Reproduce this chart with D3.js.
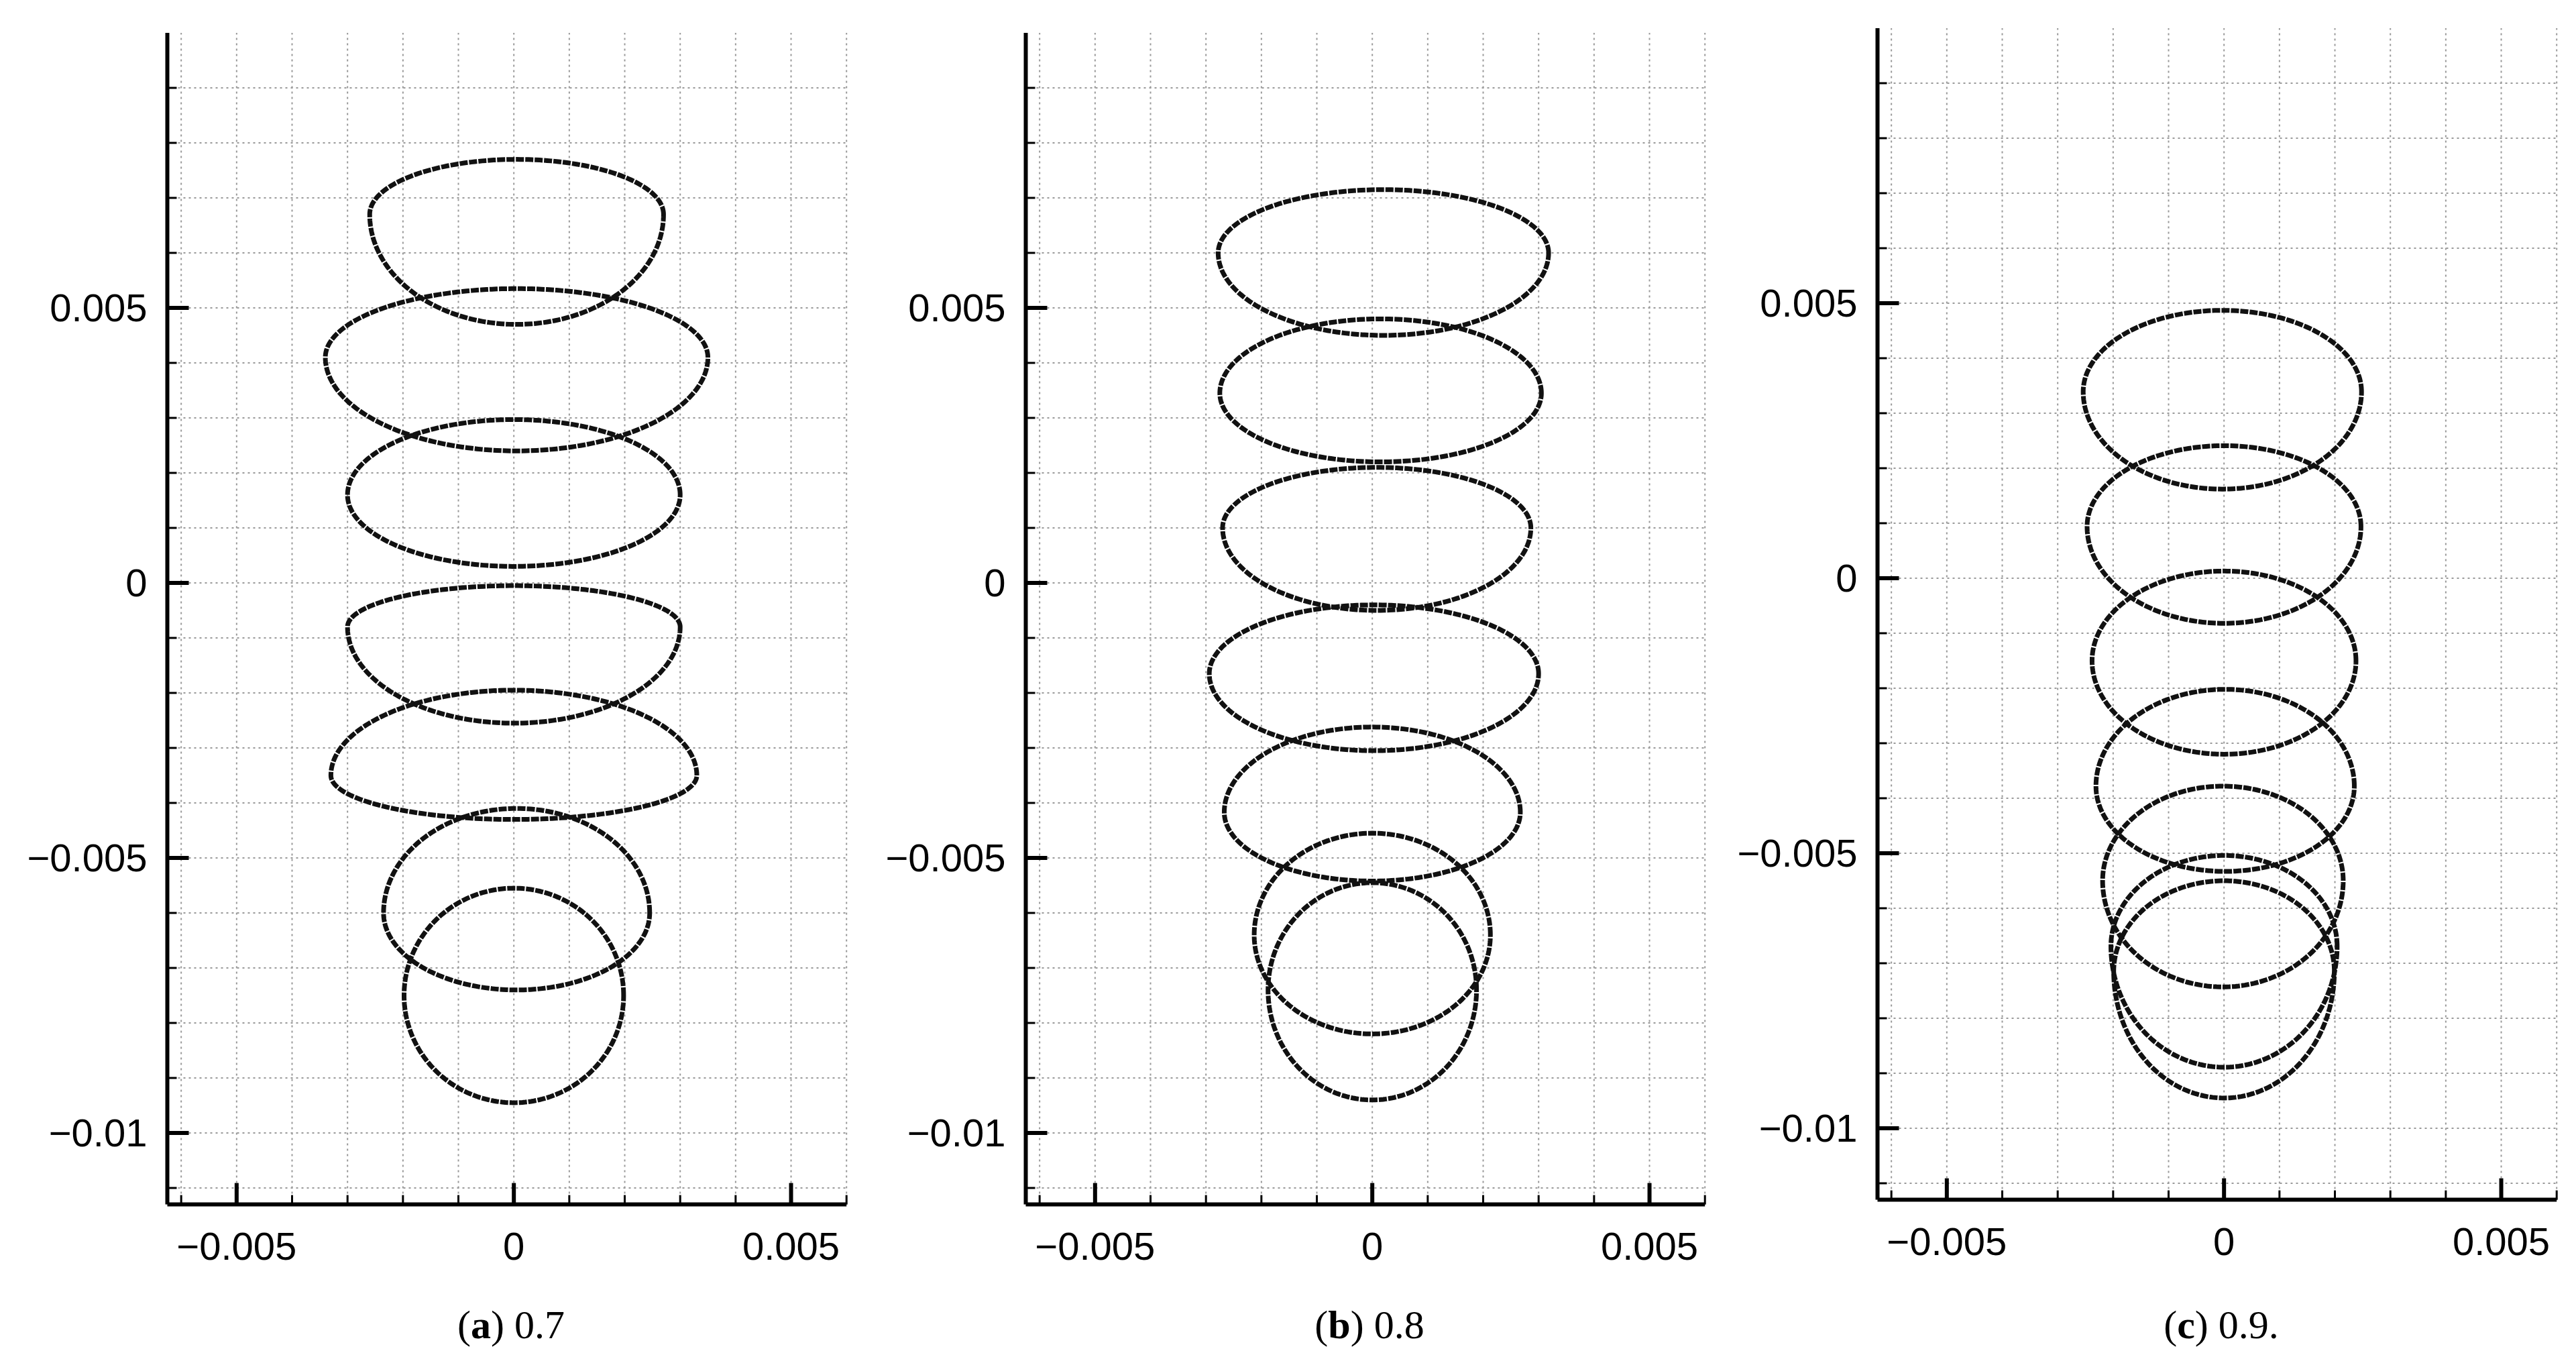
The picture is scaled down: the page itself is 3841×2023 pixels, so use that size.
<!DOCTYPE html>
<html><head><meta charset="utf-8">
<script src="https://cdn.jsdelivr.net/npm/d3@7"></script>
<style>body{margin:0;background:#fff}</style>
</head><body>
<svg id="c" width="3841" height="2023"></svg>
<script>
// values in units of 0.001: [cx, cy, rx, ryTop, ryBottom]
const panelA = [[0.05,6.7,2.65,1.0,2.0],[0.05,4.1,3.45,1.25,1.7],[0.0,1.6,3.0,1.37,1.3],[0.0,-0.8,3.0,0.75,1.75],[0.0,-3.5,3.3,1.55,0.8],[0.05,-6.0,2.4,1.9,1.4],[0.0,-7.5,1.98,1.95,1.95]];
const panelB = [[0.2,6.0,2.98,1.15,1.5],[0.15,3.45,2.9,1.35,1.25],[0.08,1.0,2.78,1.1,1.5],[0.03,-1.65,2.97,1.25,1.4],[0.0,-4.17,2.67,1.55,1.25],[0.0,-6.4,2.13,1.85,1.8],[0.0,-7.4,1.88,1.95,2.0]];
const panelC = [[-0.03,3.39,2.51,1.48,1.77],[0.0,0.94,2.47,1.47,1.76],[0.0,-1.5,2.38,1.63,1.7],[0.02,-3.78,2.33,1.76,1.55],[-0.02,-5.5,2.17,1.72,1.93],[0.0,-6.69,2.04,1.65,2.2],[0.0,-7.15,1.99,1.65,2.3]];
const panels = [panelA, panelB, panelC];
const captionLetters = ["a","b","c"];
const captionValues = [" 0.7"," 0.8"," 0.9."];
const xTickVals = [-0.005, 0, 0.005];
const yTickVals = [0.005, 0, -0.005, -0.01];
const xTickLabels = ["\u22120.005","0","0.005"];
const yTickLabels = ["0.005","0","\u22120.005","\u22120.01"];

const svg = d3.select("#c");
const unit = 82;
const origins = [[762,869],[2042,869],[3312,862]];
panels.forEach((data,i)=>{
  const [x0,y0]=origins[i];
  const x = d3.scaleLinear().domain([-0.00625,0.006]).range([x0-6.25*unit, x0+6.1*unit]);
  const y = d3.scaleLinear().domain([-0.0113,0.010]).range([y0+11.3*unit, y0-10*unit]);
  const g = svg.append("g");
  const L=x.range()[0], R=x.range()[1], T=y.range()[1], B=y.range()[0];
  for(let k=-6;k<=6;k++){ g.append("line").attr("x1",x(k/1000)).attr("x2",x(k/1000)).attr("y1",B).attr("y2",T)
    .attr("stroke","#999").attr("stroke-width",2).attr("stroke-dasharray","3,5"); }
  for(let k=-11;k<=9;k++){ g.append("line").attr("y1",y(k/1000)).attr("y2",y(k/1000)).attr("x1",L).attr("x2",R)
    .attr("stroke","#999").attr("stroke-width",2).attr("stroke-dasharray","3,5"); }
  for(let k=-6;k<=6;k++){ const maj = k%5===0; g.append("line").attr("x1",x(k/1000)).attr("x2",x(k/1000)).attr("y1",B).attr("y2",B-(maj?32:14)).attr("stroke","#000").attr("stroke-width",maj?6:3); }
  for(let k=-11;k<=9;k++){ const maj = k%5===0; g.append("line").attr("y1",y(k/1000)).attr("y2",y(k/1000)).attr("x1",L).attr("x2",L+(maj?32:14)).attr("stroke","#000").attr("stroke-width",maj?6:3); }
  g.append("line").attr("x1",L).attr("x2",L).attr("y1",T).attr("y2",B).attr("stroke","#000").attr("stroke-width",6);
  g.append("line").attr("x1",L).attr("x2",R).attr("y1",B).attr("y2",B).attr("stroke","#000").attr("stroke-width",6);
  xTickVals.forEach((v,j)=>g.append("text").attr("x",x(v)).attr("y",B+82).attr("text-anchor","middle")
    .attr("font-family","Liberation Sans, Arial").attr("font-size",58).text(xTickLabels[j]));
  yTickVals.forEach((v,j)=>g.append("text").attr("x",L-30).attr("y",y(v)+20).attr("text-anchor","end")
    .attr("font-family","Liberation Sans, Arial").attr("font-size",58).text(yTickLabels[j]));
  const line = d3.line().x(p=>x(p[0])).y(p=>y(p[1])).curve(d3.curveLinearClosed);
  data.forEach(([cx,cy,rx,rt,rb])=>{
    const pts = d3.range(240).map(n=>{const t=n/240*2*Math.PI; const s=Math.sin(t);
      return [(cx+rx*Math.cos(t))/1000,(cy+(s>0?rt:rb)*s)/1000];});
    g.append("path").attr("d",line(pts)).attr("fill","none").attr("stroke","#111").attr("stroke-width",7).attr("stroke-dasharray","12,2");
  });
  const cap = g.append("text").attr("x",x0).attr("y",1995).attr("text-anchor","middle")
    .attr("font-family","Liberation Serif, Times New Roman").attr("font-size",60);
  cap.append("tspan").text("(");
  cap.append("tspan").attr("font-weight","bold").text(captionLetters[i]);
  cap.append("tspan").text(")"+captionValues[i]);
});
</script>
</body></html>
